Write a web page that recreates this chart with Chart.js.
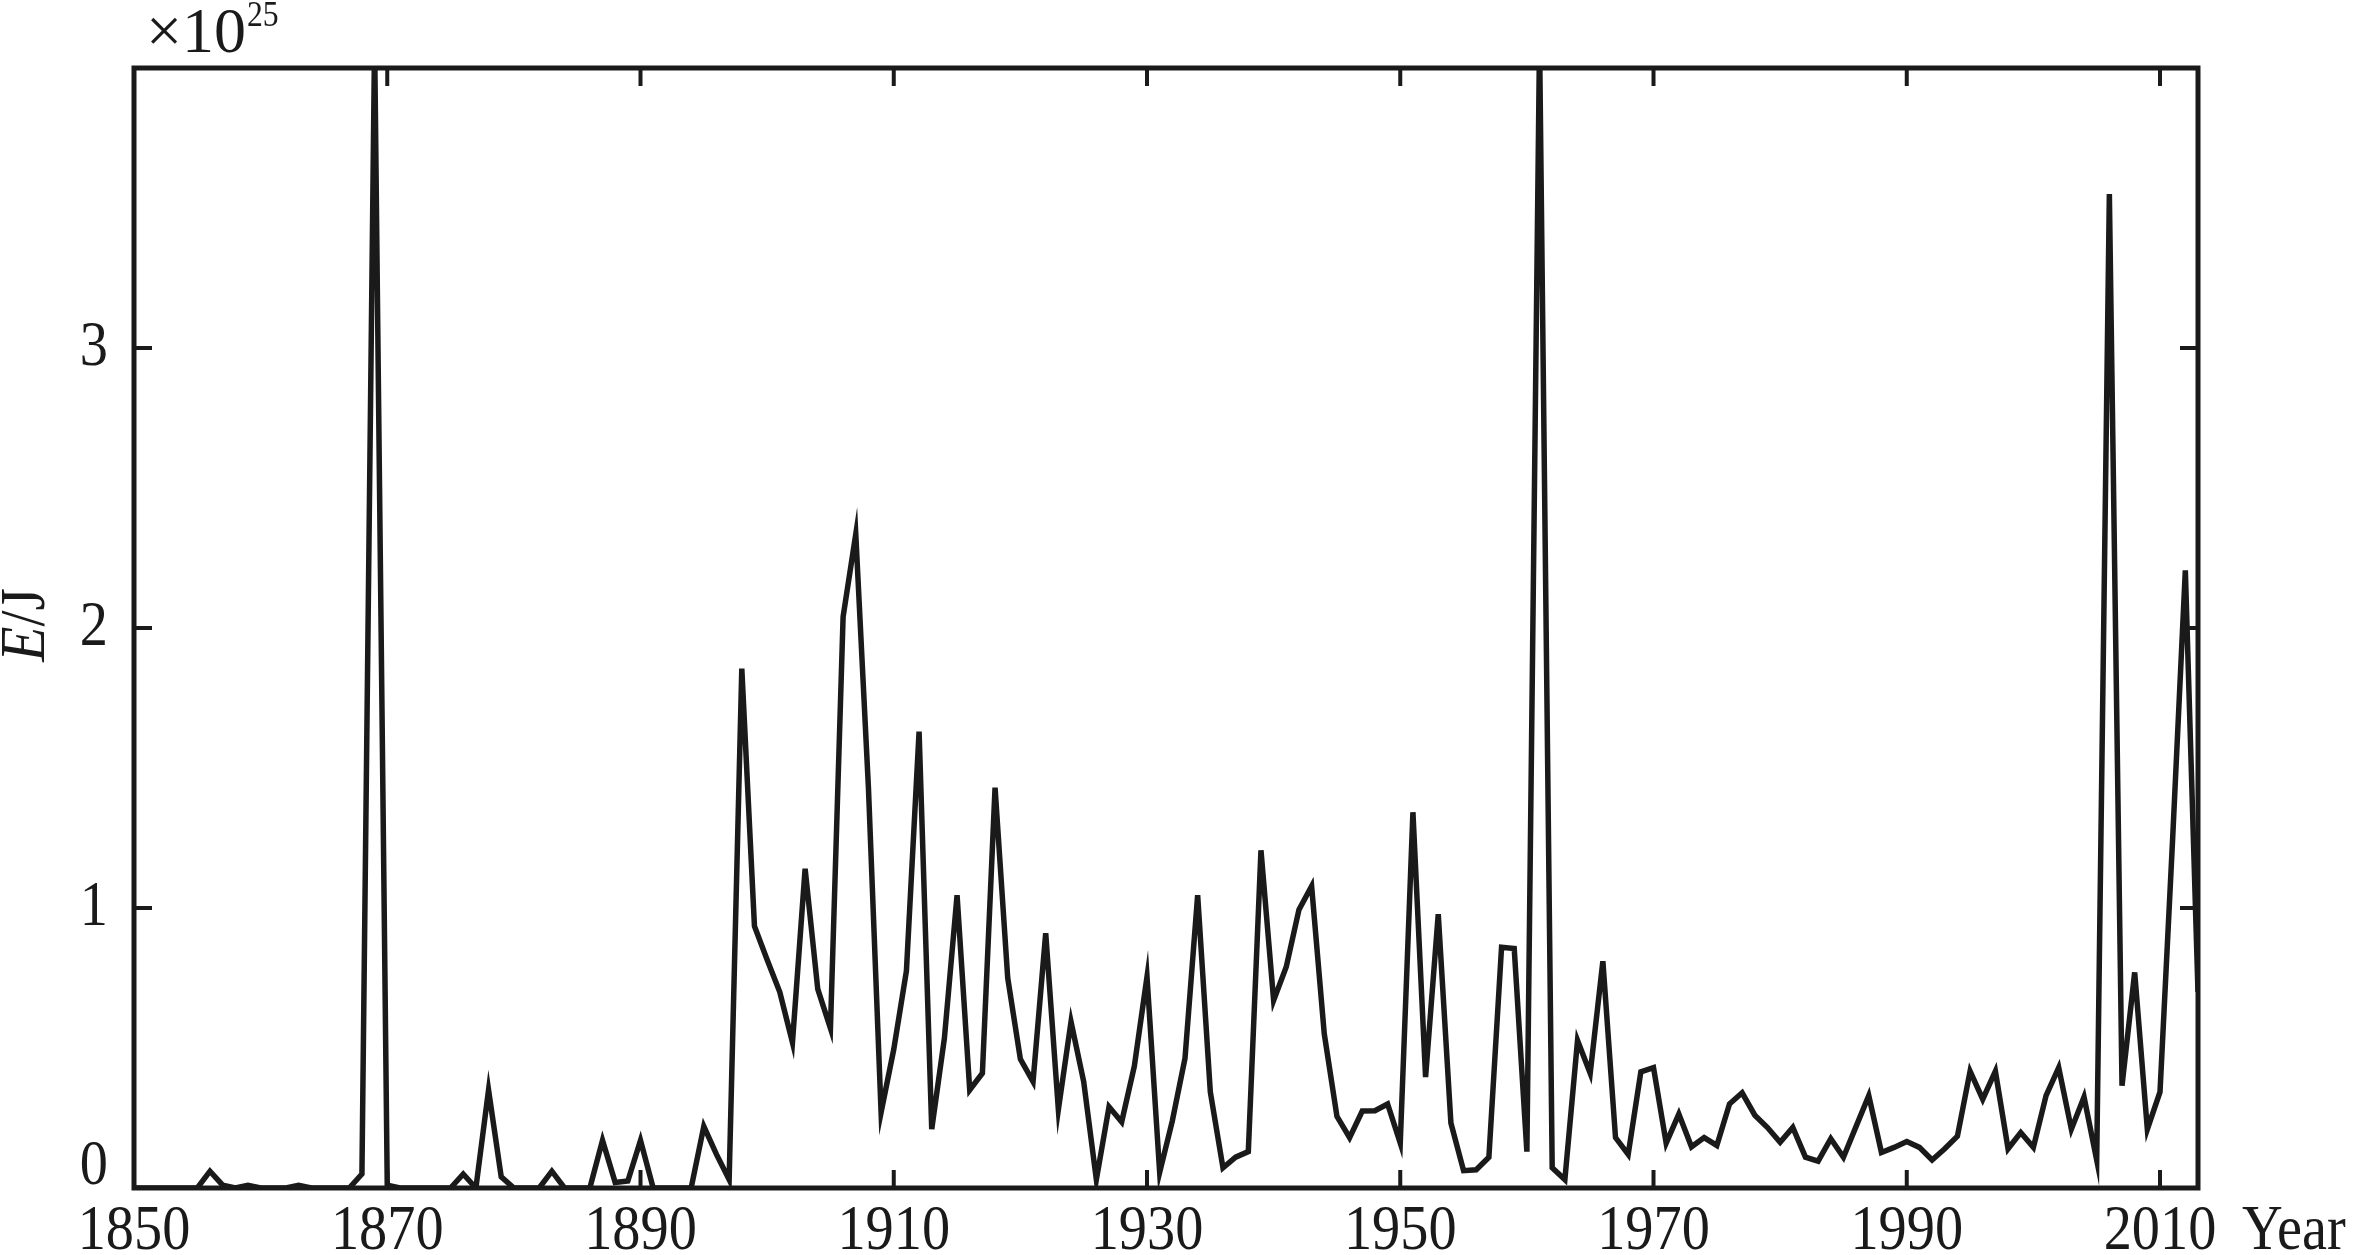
<!DOCTYPE html>
<html>
<head>
<meta charset="utf-8">
<script src="https://cdn.jsdelivr.net/npm/chart.js@4.4.1/dist/chart.umd.min.js"></script>
<style>
  html, body { margin: 0; padding: 0; background: #fff; }
  #wrap { width: 2361px; height: 1255px; }
</style>
</head>
<body>
<div id="wrap"><canvas id="energyChart" width="2361" height="1255"></canvas></div>
<script>
// ===== Data (E in units of 10^25 J) =====
const years = [
  1850, 1851, 1852, 1853, 1854, 1855, 1856, 1857, 1858, 1859,
  1860, 1861, 1862, 1863, 1864, 1865, 1866, 1867, 1868, 1869,
  1870, 1871, 1872, 1873, 1874, 1875, 1876, 1877, 1878, 1879,
  1880, 1881, 1882, 1883, 1884, 1885, 1886, 1887, 1888, 1889,
  1890, 1891, 1892, 1893, 1894, 1895, 1896, 1897, 1898, 1899,
  1900, 1901, 1902, 1903, 1904, 1905, 1906, 1907, 1908, 1909,
  1910, 1911, 1912, 1913, 1914, 1915, 1916, 1917, 1918, 1919,
  1920, 1921, 1922, 1923, 1924, 1925, 1926, 1927, 1928, 1929,
  1930, 1931, 1932, 1933, 1934, 1935, 1936, 1937, 1938, 1939,
  1940, 1941, 1942, 1943, 1944, 1945, 1946, 1947, 1948, 1949,
  1950, 1951, 1952, 1953, 1954, 1955, 1956, 1957, 1958, 1959,
  1960, 1961, 1962, 1963, 1964, 1965, 1966, 1967, 1968, 1969,
  1970, 1971, 1972, 1973, 1974, 1975, 1976, 1977, 1978, 1979,
  1980, 1981, 1982, 1983, 1984, 1985, 1986, 1987, 1988, 1989,
  1990, 1991, 1992, 1993, 1994, 1995, 1996, 1997, 1998, 1999,
  2000, 2001, 2002, 2003, 2004, 2005, 2006, 2007, 2008, 2009,
  2010, 2011, 2012, 2013
];

const energy = [
  0, 0, 0, 0, 0, 0, 0.06, 0.01, 0, 0.01,
  0, 0, 0, 0.01, 0, 0, 0, 0, 0.05, 4.1,
  0.01, 0, 0, 0, 0, 0, 0.05, 0, 0.35, 0.04,
  0, 0, 0, 0.06, 0, 0, 0, 0.17, 0.02, 0.025,
  0.17, 0, 0, 0, 0, 0.22, 0.12, 0.03, 1.855, 0.935,
  0.815, 0.70, 0.52, 1.14, 0.71, 0.57, 2.04, 2.335, 1.43, 0.27,
  0.495, 0.775, 1.63, 0.21, 0.535, 1.046, 0.35, 0.41, 1.43, 0.75,
  0.46, 0.38, 0.91, 0.28, 0.594, 0.38, 0.03, 0.29, 0.236, 0.435,
  0.754, 0.056, 0.24, 0.463, 1.046, 0.343, 0.072, 0.11, 0.13, 1.206,
  0.67, 0.79, 0.994, 1.078, 0.55, 0.256, 0.18, 0.275, 0.276, 0.30,
  0.16, 1.342, 0.396, 0.978, 0.232, 0.062, 0.065, 0.11, 0.86, 0.855,
  0.13, 4.1, 0.072, 0.03, 0.527, 0.41, 0.81, 0.18, 0.12, 0.415,
  0.43, 0.16, 0.264, 0.147, 0.18, 0.152, 0.30, 0.34, 0.26, 0.216,
  0.163, 0.216, 0.11, 0.096, 0.176, 0.11, 0.22, 0.33, 0.127, 0.145,
  0.166, 0.145, 0.10, 0.14, 0.185, 0.417, 0.317, 0.417, 0.14, 0.198,
  0.145, 0.33, 0.43, 0.21, 0.325, 0.10, 3.55, 0.365, 0.77, 0.21,
  0.343, 1.25, 2.206, 0.7
];

const xTicks = [1850, 1870, 1890, 1910, 1930, 1950, 1970, 1990, 2010];
const yTicks = [0, 1, 2, 3];

const INK = '#1a1a1a';
const SERIF = "'Liberation Serif', 'Times New Roman', serif";

// the source type is a bit narrow and tall
function narrowText(ctx, str, x, y, align) {
  ctx.save();
  ctx.translate(x, y);
  ctx.scale(0.88, 1);
  ctx.textAlign = align;
  ctx.fillText(str, 0, 0);
  ctx.restore();
}

// ===== Frame, inward ticks and axis texts =====
const framePlugin = {
  id: 'frame',
  afterDatasetsDraw(chart) {
    const { ctx, chartArea: a, scales: { x, y } } = chart;
    ctx.save();
    ctx.strokeStyle = INK;
    ctx.lineWidth = 4;
    ctx.beginPath();
    x.ticks.forEach(t => {
      const px = x.getPixelForValue(t.value);
      ctx.moveTo(px, a.bottom); ctx.lineTo(px, a.bottom - 18);
      ctx.moveTo(px, a.top); ctx.lineTo(px, a.top + 18);
    });
    y.ticks.forEach(t => {
      const py = y.getPixelForValue(t.value);
      ctx.moveTo(a.left, py); ctx.lineTo(a.left + 18, py);
      ctx.moveTo(a.right, py); ctx.lineTo(a.right - 18, py);
    });
    ctx.stroke();
    ctx.lineWidth = 5;
    ctx.strokeRect(a.left, a.top, a.right - a.left, a.bottom - a.top);

    ctx.fillStyle = INK;
    ctx.font = '64px ' + SERIF;

    // y tick labels (the 0 sits a little above the axis, as in the source)
    ctx.textBaseline = 'middle';
    y.ticks.forEach(t => {
      const py = y.getPixelForValue(t.value) - (t.value === 0 ? 21 : 0);
      narrowText(ctx, String(t.value), 108, py, 'right');
    });

    // x tick labels
    ctx.textBaseline = 'alphabetic';
    x.ticks.forEach(t => {
      narrowText(ctx, String(t.value), x.getPixelForValue(t.value), 1249, 'center');
    });

    // x axis name
    narrowText(ctx, 'Year', 2242, 1249, 'left');

    // exponent
    ctx.textAlign = 'left';
    ctx.fillText('\u00d710', 146, 52);
    ctx.font = '36px ' + SERIF;
    narrowText(ctx, '25', 247, 26, 'left');

    // y axis name: italic E, upright /J
    ctx.translate(44, 625);
    ctx.rotate(-Math.PI / 2);
    ctx.scale(0.9, 1);
    ctx.textAlign = 'left';
    ctx.font = 'italic 64px ' + SERIF;
    const wE = ctx.measureText('E').width;
    ctx.font = '64px ' + SERIF;
    const wJ = ctx.measureText('/J').width;
    const x0 = -(wE + wJ) / 2;
    ctx.font = 'italic 64px ' + SERIF;
    ctx.fillText('E', x0, 0);
    ctx.font = '64px ' + SERIF;
    ctx.fillText('/J', x0 + wE, 0);
    ctx.restore();
  }
};

new Chart(document.getElementById('energyChart'), {
  type: 'line',
  data: {
    datasets: [{
      data: years.map((yr, i) => ({ x: yr, y: energy[i] })),
      borderColor: INK,
      borderWidth: 5.5,
      pointRadius: 0,
      tension: 0,
      fill: false,
      clip: 0
    }]
  },
  options: {
    responsive: false,
    animation: false,
    devicePixelRatio: 1,
    layout: { padding: { top: 68, right: 163, left: 0, bottom: 0 } },
    plugins: { legend: { display: false }, tooltip: { enabled: false } },
    scales: {
      x: {
        type: 'linear',
        min: 1850,
        max: 2013,
        grid: { display: false, drawTicks: false },
        border: { display: false },
        afterBuildTicks: s => { s.ticks = xTicks.map(v => ({ value: v })); },
        afterFit: s => { s.height = 67; },
        ticks: { display: false }
      },
      y: {
        min: 0,
        max: 4,
        grid: { display: false, drawTicks: false },
        border: { display: false },
        afterBuildTicks: s => { s.ticks = yTicks.map(v => ({ value: v })); },
        afterFit: s => { s.width = 134; },
        ticks: { display: false }
      }
    }
  },
  plugins: [framePlugin]
});
</script>
</body>
</html>
